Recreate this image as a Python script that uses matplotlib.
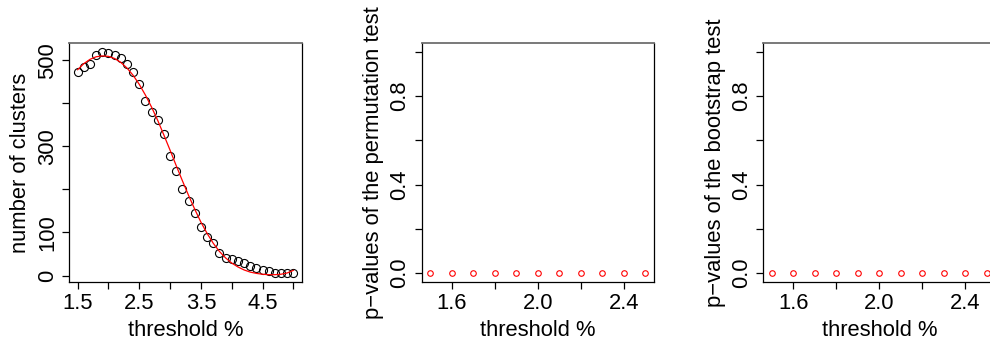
import numpy as np
import matplotlib
matplotlib.use("Agg")
import matplotlib.pyplot as plt

FS = 15.8
plt.rcParams['font.family'] = ['Liberation Sans', 'DejaVu Sans']
plt.rcParams['font.size'] = FS

# panel 1: number of clusters vs threshold
threshold = np.round(np.arange(15, 51) / 10, 1)
n_clusters = [473, 484, 491, 513, 519, 516, 513, 506, 491, 473,
              444, 406, 380, 361, 328, 278, 243, 202, 173, 145,
              113, 90, 75, 53, 40, 39, 34, 29, 21, 18,
              13, 10, 7, 5, 5, 5]
# smooth fit (red line) at the same thresholds
fit_clusters = [478, 492, 502, 508, 510, 509, 504, 495, 482, 465,
                444, 419, 391, 360, 326, 291, 255, 220, 186, 154,
                124, 98, 75, 56, 41, 29, 20, 13, 8, 5,
                3, 2, 2, 3, 6, 12]

# panels 2 and 3: p-values
thr_p = np.round(np.arange(15, 26) / 10, 1)
p_perm = [0.0] * 11
p_boot = [0.0] * 11

W, H = 990, 341
fig = plt.figure(figsize=(W / 100, H / 100), dpi=100)

def px_axes(left, right, top=43, bottom=282):
    return fig.add_axes([left / W, (H - bottom) / H, (right - left) / W, (bottom - top) / H])

def style(ax):
    for s in ax.spines.values():
        s.set_linewidth(0.9)
        s.set_color('black')
    ax.spines['top'].set_color('#6e6e6e')
    ax.spines['top'].set_linewidth(1.3)
    ax.tick_params(direction='out', length=5, width=0.9, pad=3, labelsize=FS)
    for lab in ax.get_yticklabels():
        lab.set_rotation(90)
        lab.set_va('center')

# panel 1
ax1 = px_axes(69, 302)
ax1.plot(threshold, n_clusters, 'o', mfc='none', mec='black', ms=5.8, mew=0.8)
ax1.plot(threshold, fit_clusters, color='red', lw=0.9)
ax1.set_xlim(1.36, 5.14)
ax1.set_ylim(-15, 540)
ax1.set_xticks(np.arange(1.5, 5.01, 0.5))
ax1.set_xticklabels(['1.5', '', '2.5', '', '3.5', '', '4.5', ''])
ax1.set_yticks([0, 100, 200, 300, 400, 500])
ax1.set_yticklabels(['0', '100', '', '300', '', '500'])
ax1.set_xlabel('threshold %', labelpad=4)
ax1.set_ylabel('number of clusters', labelpad=4)
style(ax1)

# panels 2 and 3
for left, right, pvals, lab in [(421.7, 654, p_perm, 'p\u2212values of the permutation test'),
                                (763.3, 995.6, p_boot, 'p\u2212values of the bootstrap test')]:
    ax = px_axes(left, right)
    ax.plot(thr_p, pvals, 'o', mfc='none', mec='red', ms=4, mew=0.8)
    ax.set_xlim(1.46, 2.54)
    ax.set_ylim(-0.04, 1.04)
    ax.set_xticks([1.6, 1.8, 2.0, 2.2, 2.4])
    ax.set_xticklabels(['1.6', '', '2.0', '', '2.4'])
    ax.set_yticks([0, 0.2, 0.4, 0.6, 0.8, 1.0])
    ax.set_yticklabels(['0.0', '', '0.4', '', '0.8', ''])
    ax.set_xlabel('threshold %', labelpad=4)
    ax.set_ylabel(lab, labelpad=4)
    style(ax)

fig.savefig('out.png', dpi=100)
